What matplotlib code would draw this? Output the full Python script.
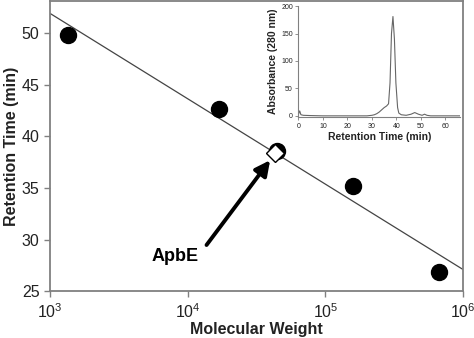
import numpy as np
import matplotlib.pyplot as plt

plt.rcParams['font.family'] = ['Liberation Sans', 'DejaVu Sans']
plt.rcParams['mathtext.fontset'] = 'custom'
plt.rcParams['mathtext.rm'] = 'Liberation Sans'
plt.rcParams['mathtext.default'] = 'regular'

# standard proteins: molecular weight vs retention time
std_mw = [1350, 16900, 44500, 158000, 669000]
std_rt = [49.8, 42.7, 38.6, 35.2, 26.9]

# ApbE
apbe_mw = [43000]
apbe_rt = [38.4]

# inset chromatogram
ins_t = [0, 0.5, 1, 2, 5, 10, 20, 28, 30, 31, 32, 33, 34, 35, 36, 36.8, 37.4, 38, 38.6,
         39.2, 39.8, 40.5, 41, 42, 44, 46, 47.5, 49, 50.5, 51.5, 52.5, 54, 60, 66]
ins_a = [3, 9, 2, 1, 0.5, 0, 0, 0, 1, 2, 4, 7, 11, 15, 18, 22, 60, 150, 181,
         140, 60, 15, 5, 2, 1, 3, 6, 3, 1, 3, 1, 0, 0, 0]

gray = '#808080'
txt = '#222222'

fig = plt.figure(figsize=(4.74, 3.38), dpi=100)
ax = fig.add_axes([0.1055, 0.1376, 0.8713, 0.8594])

# linear fit of retention time vs log10(MW)
slope, icpt = np.polyfit(np.log10(std_mw), std_rt, 1)
xx = np.logspace(3, 6, 50)
ax.plot(xx, slope * np.log10(xx) + icpt, color='#444444', lw=0.9, zorder=2)

ax.plot(std_mw, std_rt, 'o', color='black', ms=11.5, zorder=3)
ax.plot(apbe_mw, apbe_rt, 'D', mfc='white', mec='black', mew=1.0, ms=9, zorder=4)

ax.set_xscale('log')
ax.set_xlim(1e3, 1e6)
ax.set_ylim(25, 53.1)
ax.set_yticks([25, 30, 35, 40, 45, 50])
ax.set_xticks([1e3, 1e4, 1e5, 1e6])
ax.set_xticklabels(['$10^3$', '$10^4$', '$10^5$', '$10^6$'])
ax.minorticks_off()
ax.tick_params(labelsize=11.5, colors=gray, labelcolor=txt, length=4, width=1)
for s in ax.spines.values():
    s.set_color(gray)
    s.set_linewidth(1.3)
ax.set_xlabel('Molecular Weight', fontsize=11.5, fontweight='bold', color=txt, labelpad=1)
ax.set_ylabel('Retention Time (min)', fontsize=11.5, fontweight='bold', color=txt, labelpad=2)

ax.text(0.304, 0.119, 'ApbE', transform=ax.transAxes, ha='center', va='center',
        fontsize=13, fontweight='bold', color='black')
ax.annotate('', xy=(0.533, 0.452), xytext=(0.379, 0.160),
            xycoords='axes fraction', textcoords='axes fraction',
            arrowprops=dict(arrowstyle='-|>,head_length=0.9,head_width=0.45',
                            color='black', lw=2.8, shrinkA=0, shrinkB=0))

# inset
ins = fig.add_axes([0.6297, 0.654, 0.3408, 0.328])
ins.plot(ins_t, ins_a, color='#666666', lw=0.8)
ins.set_xlim(0, 66)
ins.set_ylim(-2, 200)
ins.set_xticks(range(0, 61, 10))
ins.set_yticks(range(0, 201, 50))
ins.spines['top'].set_visible(False)
ins.spines['right'].set_visible(False)
for s in ['left', 'bottom']:
    ins.spines[s].set_color(gray)
    ins.spines[s].set_linewidth(0.8)
ins.tick_params(labelsize=5, colors=gray, labelcolor=txt, length=2, width=0.6, pad=2)
ins.set_xlabel('Retention Time (min)', fontsize=7.5, fontweight='bold', color=txt, labelpad=2)
ins.set_ylabel('Absorbance (280 nm)', fontsize=7.5, fontweight='bold', color=txt, labelpad=2)

fig.savefig('out.png', dpi=100)
